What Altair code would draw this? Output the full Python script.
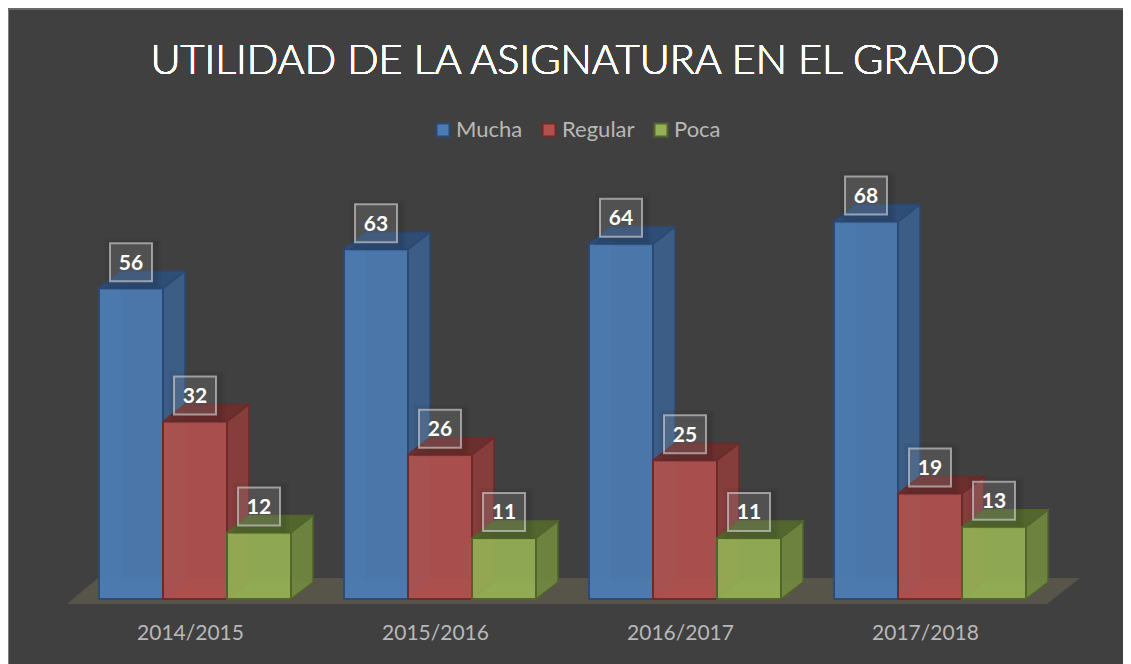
import altair as alt
import pandas as pd

TITLE = "UTILIDAD DE LA ASIGNATURA EN EL GRADO"
CATEGORIES = ["2014/2015", "2015/2016", "2016/2017", "2017/2018"]
SERIES = ["Mucha", "Regular", "Poca"]
MUCHA = [56, 63, 64, 68]
REGULAR = [32, 26, 25, 19]
POCA = [12, 11, 11, 13]

FRONT = ["#4c7bb2", "#b0514e", "#94af55"]
SIDE = ["#3c5f8a", "#8a3e3d", "#70863f"]
TOP = ["#2f4e78", "#6e2f2e", "#55692f"]
INNER = ["#4474ad", "#b04a47", "#93b04f"]
EDGE = ["#2a4a75", "#6d2a2a", "#51662a"]

PITCH = 245.0
BAR = 64 / PITCH
START = -91 / PITCH
DX = 22 / PITCH
PX_PER_UNIT = 5.55
DV = 17 / PX_PER_UNIT

values = dict(zip(SERIES, [MUCHA, REGULAR, POCA]))
fronts, sides, tops, lefts, bottoms = [], [], [], [], []
for s_i, s in enumerate(SERIES):
    for c_i, c in enumerate(CATEGORIES):
        v = values[s][c_i]
        x0 = c_i + START + s_i * BAR
        x1 = x0 + BAR
        bid = f"{s}-{c}"
        fronts.append(dict(Serie=s, id=bid, x=x0, x2=x1, xc=(x0 + x1) / 2, v=v))
        sides += [dict(Serie=s, id=bid, x=x1, y=v, y2=0),
                  dict(Serie=s, id=bid, x=x1 + DX, y=v + DV, y2=DV)]
        lefts += [dict(Serie=s, id=bid, x=x0, y=v, y2=0),
                  dict(Serie=s, id=bid, x=x0 + DX, y=v + DV, y2=DV)]
        tops += [dict(Serie=s, id=bid, y=v, x=x0, x2=x1),
                 dict(Serie=s, id=bid, y=v + DV, x=x0 + DX, x2=x1 + DX)]
        bottoms += [dict(Serie=s, id=bid, y=0, x=x0, x2=x1),
                    dict(Serie=s, id=bid, y=DV, x=x0 + DX, x2=x1 + DX)]

floor = pd.DataFrame([
    dict(id="f", y=-5 / PX_PER_UNIT, x=-123 / PITCH, x2=857 / PITCH),
    dict(id="f", y=21 / PX_PER_UNIT, x=-92 / PITCH, x2=890 / PITCH),
])
fronts = pd.DataFrame(fronts)
xs = alt.Scale(domain=[-182 / PITCH, 933 / PITCH])
ys = alt.Scale(domain=[-11 / PX_PER_UNIT, 431 / PX_PER_UNIT])


def col(r, legend=None):
    return alt.Color("Serie:N", scale=alt.Scale(domain=SERIES, range=r), legend=legend)


def edge(legend=None):
    return alt.Stroke("Serie:N", scale=alt.Scale(domain=SERIES, range=EDGE), legend=legend)


XAXIS = alt.Axis(
    values=[0, 1, 2, 3], title=None, domain=False, ticks=False, grid=False,
    labelExpr="['2014/2015','2015/2016','2016/2017','2017/2018'][datum.value]",
    labelColor="#b8b8b8", labelFontSize=21, labelFont="Lato", labelPadding=23,
    labelBaseline="middle", labelFlush=False)
X = alt.X("x:Q", scale=xs, axis=XAXIS)
XC = alt.X("xc:Q", scale=xs, axis=XAXIS)
Y = alt.Y("y:Q", scale=ys, axis=None)
YV = alt.Y("v:Q", scale=ys, axis=None)


def vface(rows, r, opacity, sw=1.5):
    return alt.Chart(pd.DataFrame(rows)).mark_area(opacity=opacity, strokeWidth=sw, orient="vertical").encode(
        x=X, y=Y, y2="y2:Q", detail="id:N", color=col(r), stroke=edge())


def hface(rows, r, opacity, sw=1.5):
    return alt.Chart(pd.DataFrame(rows)).mark_area(opacity=opacity, strokeWidth=sw, orient="horizontal").encode(
        x=X, x2="x2:Q", y=Y, detail="id:N", color=col(r), stroke=edge())


floor_layer = alt.Chart(floor).mark_area(orient="horizontal", color="#57544a").encode(
    x=X, x2="x2:Q", y=Y, detail="id:N")

legend = alt.Legend(
    title=None, orient="none", legendX=424, legendY=-49, direction="horizontal", columns=3,
    symbolType="square", symbolSize=170, symbolStrokeWidth=2, symbolOpacity=1,
    labelColor="#b8b8b8", labelFont="Lato", labelFontSize=22, labelOffset=2,
    columnPadding=15)

front_layer = alt.Chart(fronts).mark_rect(opacity=0.93, strokeWidth=2).encode(
    x=X, x2="x2:Q", y=YV, y2=alt.Y2(datum=0),
    color=col(FRONT, legend), stroke=edge(legend))


def shadow(w, h, a):
    return alt.Chart(fronts).mark_rect(width=w, height=h, yOffset=-24, xOffset=2, fill="#000000",
                                       fillOpacity=a).encode(x=XC, y=YV)


box = alt.Chart(fronts).mark_rect(
    width=42, height=38, yOffset=-26, fill="#ffffff", fillOpacity=0.12,
    stroke="#d0d0d0", strokeWidth=2, strokeOpacity=0.65
).encode(x=XC, y=YV)

text = alt.Chart(fronts).mark_text(
    dy=-24.5, color="#ffffff", font="Lato", fontWeight="bold", fontSize=21
).encode(x=XC, y=YV, text="v:Q")

title_mark = alt.Chart(fronts).mark_text(
    text=TITLE, color="#ffffff", font="Lato", fontWeight=300, fontSize=41.3,
    align="center", baseline="middle"
).encode(x=alt.value(567), y=alt.value(-106))

frame_left = alt.Chart(fronts).mark_rule(color="#7f7f7f", strokeWidth=1.5).encode(
    x=alt.value(0), y=alt.value(-160), y2=alt.value(496))
frame_top = alt.Chart(fronts).mark_rule(color="#6a6a6a", strokeWidth=1.5).encode(
    x=alt.value(0), x2=alt.value(1115), y=alt.value(-159))

chart = alt.layer(
    floor_layer,
    hface(bottoms, INNER, 0.5, 0),
    vface(lefts, INNER, 0.5, 0),
    vface(sides, SIDE, 0.95),
    hface(tops, TOP, 0.95),
    front_layer,
    shadow(56, 52, 0.04), shadow(50, 46, 0.05),
    box, text, title_mark, frame_left, frame_top,
).resolve_scale(color="independent", stroke="independent").properties(
    width=1115, height=442,
    autosize=alt.AutoSizeParams(type="none"),
    padding={"left": 0, "top": 160, "right": 0, "bottom": 54},
    background="#404040",
).configure_view(stroke=None)

chart.save("out.html", embed_options={"renderer": "svg", "actions": False})
